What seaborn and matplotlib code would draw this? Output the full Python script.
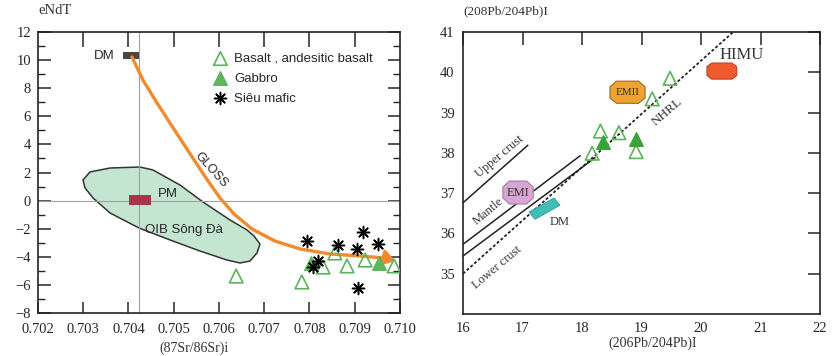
import matplotlib
matplotlib.use("Agg")
import matplotlib.pyplot as plt
import seaborn as sns
from matplotlib.patches import Polygon
from matplotlib.ticker import MultipleLocator

# ---------------- data: left panel (Sr-Nd) ----------------
basalt_sr = [0.70638, 0.70783, 0.70856, 0.70830, 0.70883, 0.70923, 0.70987]
basalt_nd = [-5.37, -5.79, -3.73, -4.73, -4.65, -4.23, -4.65]
gabbro_sr = [0.70803, 0.70954]
gabbro_nd = [-4.44, -4.44]
sieu_sr = [0.70795, 0.70918, 0.70863, 0.70905, 0.70951, 0.70819, 0.70808, 0.70907]
sieu_nd = [-2.88, -2.23, -3.16, -3.44, -3.09, -4.30, -4.73, -6.22]

gloss_sr = [0.704077, 0.704320, 0.704630, 0.704917, 0.705204, 0.705492, 0.705757,
            0.706022, 0.706331, 0.706729, 0.707238, 0.707790, 0.708453, 0.709116,
            0.709669]
gloss_nd = [10.22, 8.58, 6.95, 5.52, 4.10, 2.68, 1.40, 0.19, -0.95, -2.02, -2.88,
            -3.44, -3.80, -3.94, -4.09]
gloss_tip = (0.70990, -4.30)

oib_sr = [0.702994, 0.703149, 0.703591, 0.704254, 0.704541, 0.705138, 0.705646,
          0.706243, 0.706619, 0.706773, 0.706906, 0.706840, 0.706685, 0.706464,
          0.706177, 0.705580, 0.704917, 0.704232, 0.703591, 0.703215, 0.703039]
oib_nd = [1.47, 2.04, 2.32, 2.39, 2.18, 1.11, -0.10, -1.38, -2.09, -2.52, -3.09,
          -3.73, -4.30, -4.44, -4.23, -3.59, -2.80, -1.95, -0.88, 0.19, 0.90]

dm_left = (0.70388, 0.70423, 10.10, 10.60)   # xmin, xmax, ymin, ymax
pm_left = (0.70401, 0.70450, -0.30, 0.40)
ref_sr = 0.70423

# ---------------- data: right panel (Pb-Pb) ----------------
pb206_basalt = [19.48, 19.18, 18.31, 18.62, 18.91, 18.17]
pb208_basalt = [39.85, 39.34, 38.54, 38.50, 38.03, 37.99]
pb206_gabbro = [18.35, 18.91]
pb208_gabbro = [38.28, 38.35]

emii_x = [18.47, 18.47, 18.58, 18.95, 19.06, 19.06, 18.95, 18.58]
emii_y = [39.36, 39.64, 39.78, 39.78, 39.64, 39.36, 39.23, 39.23]
himu_x = [20.10, 20.10, 20.18, 20.52, 20.60, 20.60, 20.52, 20.18]
himu_y = [39.92, 40.14, 40.23, 40.23, 40.14, 39.92, 39.83, 39.83]
emi_x = [16.67, 16.67, 16.78, 17.07, 17.18, 17.18, 17.07, 16.78]
emi_y = [36.88, 37.15, 37.30, 37.30, 37.15, 36.88, 36.73, 36.73]
dmr_x = [17.11, 17.53, 17.63, 17.21]
dmr_y = [36.53, 36.88, 36.70, 36.35]

upper_crust_x = [16.0, 17.09]
upper_crust_y = [36.76, 38.19]
mantle1_x = [16.0, 17.97]
mantle1_y = [35.73, 37.93]
mantle2_x = [16.0, 18.22]
mantle2_y = [35.44, 37.88]
nhrl_x = [16.0, 20.54]
nhrl_y = [35.0, 41.0]

# ---------------- style ----------------
sns.set_style("white")
SERIF = ["Liberation Serif", "DejaVu Serif"]
SANS = ["Liberation Sans", "DejaVu Sans"]
plt.rcParams["font.family"] = SERIF

fig = plt.figure(figsize=(8.35, 3.56), dpi=100)
ax1 = fig.add_axes([38/835, 1-313/356, 362/835, 281/356])
ax2 = fig.add_axes([463/835, 1-314/356, 357/835, 282/356])

green_edge = "#5bb35b"
green_fill = "#5fb85f"

# ================= LEFT PANEL =================
ax1.set_xlim(0.702, 0.710)
ax1.set_ylim(-8, 12)

ax1.add_patch(Polygon(list(zip(oib_sr, oib_nd)), closed=True, facecolor="#c4e6d0",
                      edgecolor="#333333", lw=1.1, joinstyle="round", zorder=1))
ax1.axvline(ref_sr, color="#a0a0a0", lw=0.8, zorder=2)
ax1.axhline(0, color="#a0a0a0", lw=0.8, zorder=2)

x0, x1, y0, y1 = dm_left
ax1.add_patch(Polygon([(x0, y0), (x1, y0), (x1, y1), (x0, y1)], closed=True,
                      facecolor="#4d4540", edgecolor="none", zorder=3))
x0, x1, y0, y1 = pm_left
ax1.add_patch(Polygon([(x0, y0), (x1, y0), (x1, y1), (x0, y1)], closed=True,
                      facecolor="#a8344a", edgecolor="none", zorder=3))

sns.lineplot(x=gloss_sr, y=gloss_nd, ax=ax1, color="#f28a30", lw=2.4, sort=False,
             zorder=4, legend=False)
ax1.annotate("", xy=gloss_tip, xytext=(gloss_sr[-1], gloss_nd[-1]),
             arrowprops=dict(arrowstyle="-|>,head_length=0.7,head_width=0.45",
                             color="#f28a30", lw=2.4, shrinkA=0, shrinkB=0), zorder=4)

sns.scatterplot(x=basalt_sr, y=basalt_nd, ax=ax1, marker="^", s=95, facecolor="none",
                edgecolor=green_edge, linewidth=1.2, zorder=5, label="Basalt , andesitic basalt")
sns.scatterplot(x=gabbro_sr, y=gabbro_nd, ax=ax1, marker="^", s=95, color=green_fill,
                edgecolor=green_edge, linewidth=1.0, zorder=5, label="Gabbro")
sns.scatterplot(x=sieu_sr, y=sieu_nd, ax=ax1, marker=(8, 2, 0), s=75, color="black",
                edgecolor="black", linewidth=1.1, zorder=6, label="Siêu mafic")

leg = ax1.legend(loc="upper left", bbox_to_anchor=(0.462, 0.945), frameon=False,
                 prop={"family": SANS, "size": 9.5}, handletextpad=0.3,
                 labelspacing=0.58, borderaxespad=0, handlelength=1.5)

ax1.text(0.703459, 10.3, "DM", family=SANS, fontsize=9.5, ha="center", va="center")
ax1.text(0.70487, 0.5, "PM", family=SANS, fontsize=9.5, ha="center", va="center")
ax1.text(0.70522, -2.1, "OIB Sông Đà", family=SANS, fontsize=9.5, ha="center", va="center")
ax1.text(0.70583, 2.2, "GLOSS", family=SANS, fontsize=9, ha="center", va="center",
         rotation=-48)

ax1.set_xticks([0.702, 0.703, 0.704, 0.705, 0.706, 0.707, 0.708, 0.709, 0.710])
ax1.set_xticklabels(["0.702", "0.703", "0.704", "0.705", "0.706", "0.707", "0.708",
                     "0.709", "0.710"])
ax1.set_yticks([-8, -6, -4, -2, 0, 2, 4, 6, 8, 10, 12])
ax1.yaxis.set_minor_locator(MultipleLocator(1))
ax1.tick_params(axis="x", direction="in", length=8, width=1.1, labelsize=10.5, pad=7,
                bottom=True, top=False)
ax1.tick_params(axis="y", which="major", direction="in", length=9, width=1.1,
                labelsize=10.5, left=True, right=True, pad=5)
ax1.tick_params(axis="y", which="minor", direction="in", length=5, width=1.0,
                left=True, right=True)
sec = ax1.secondary_xaxis("top")
sec.set_xticks([0.703, 0.704, 0.705, 0.706, 0.707, 0.708, 0.709])
sec.tick_params(direction="in", length=11, width=1.1, labeltop=False)
for s in sec.spines.values():
    s.set_visible(False)
for s in ax1.spines.values():
    s.set_linewidth(1.2)
    s.set_color("#222222")
ax1.set_xlabel("")
ax1.set_ylabel("")

# ================= RIGHT PANEL =================
ax2.set_xlim(16, 22)
ax2.set_ylim(34, 41)

sns.lineplot(x=upper_crust_x, y=upper_crust_y, ax=ax2, color="#222222", lw=1.1)
sns.lineplot(x=mantle1_x, y=mantle1_y, ax=ax2, color="#222222", lw=1.1)
sns.lineplot(x=mantle2_x, y=mantle2_y, ax=ax2, color="#222222", lw=1.1)
sns.lineplot(x=nhrl_x, y=nhrl_y, ax=ax2, color="#222222", lw=1.3,
             linestyle=(0, (1.6, 1.2)))

ax2.add_patch(Polygon(list(zip(emii_x, emii_y)), closed=True, facecolor="#f0a330",
                      edgecolor="#9a6a20", lw=0.8, joinstyle="round", zorder=3))
ax2.add_patch(Polygon(list(zip(himu_x, himu_y)), closed=True, facecolor="#f05a2c",
                      edgecolor="#c04020", lw=0.8, joinstyle="round", zorder=3))
ax2.add_patch(Polygon(list(zip(emi_x, emi_y)), closed=True, facecolor="#d8a6d2",
                      edgecolor="#a77aa2", lw=0.8, joinstyle="round", zorder=3))
ax2.add_patch(Polygon(list(zip(dmr_x, dmr_y)), closed=True, facecolor="#3fbfb6",
                      edgecolor="#2a9a92", lw=0.6, zorder=3))

sns.scatterplot(x=pb206_basalt, y=pb208_basalt, ax=ax2, marker="^", s=95,
                facecolor="none", edgecolor=green_edge, linewidth=1.2, zorder=5)
sns.scatterplot(x=pb206_gabbro, y=pb208_gabbro, ax=ax2, marker="^", s=95,
                color="#3aa23a", edgecolor="#3aa23a", linewidth=1.0, zorder=5)

ax2.text(18.765, 39.5, "EMII", fontsize=8, ha="center", va="center", color="#333333", zorder=4)
ax2.text(16.925, 37.01, "EMI", fontsize=9, ha="center", va="center", color="#333333", zorder=4)
ax2.text(17.62, 36.28, "DM", fontsize=9, ha="center", va="center", color="#333333")
ax2.text(20.68, 40.43, "HIMU", fontsize=12, ha="center", va="center", color="#333333")
ax2.text(19.43, 39.02, "NHRL", fontsize=9.5, ha="center", va="center", rotation=41,
         color="#333333")
ax2.text(16.62, 37.9, "Upper crust", fontsize=9, ha="center", va="center", rotation=40,
         color="#333333")
ax2.text(16.43, 36.55, "Mantle", fontsize=9, ha="center", va="center", rotation=40,
         color="#333333")
ax2.text(16.57, 35.15, "Lower crust", fontsize=9, ha="center", va="center", rotation=40,
         color="#333333")

ax2.set_xticks([16, 17, 18, 19, 20, 21, 22])
ax2.set_yticks([35, 36, 37, 38, 39, 40, 41])
ax2.tick_params(direction="in", length=9, width=1.1, labelsize=10.5, top=True,
                right=True, labeltop=False, labelright=False, pad=6)
for s in ax2.spines.values():
    s.set_linewidth(1.2)
    s.set_color("#222222")
ax2.set_xlabel("")
ax2.set_ylabel("")

# axis titles placed like the reference
fig.text(38/835, 1-11/356, "eNdT", fontsize=10.5, ha="left", va="center", color="#333333")
fig.text(463/835, 1-11/356, "(208Pb/204Pb)I", fontsize=9.5, ha="left", va="center",
         color="#333333")
fig.text(194/835, 1-348/356, "(87Sr/86Sr)i", fontsize=10, ha="center", va="center",
         color="#333333")
fig.text(653/835, 1-343/356, "(206Pb/204Pb)I", fontsize=10, ha="center", va="center",
         color="#333333")

fig.savefig("out.png", dpi=100)
